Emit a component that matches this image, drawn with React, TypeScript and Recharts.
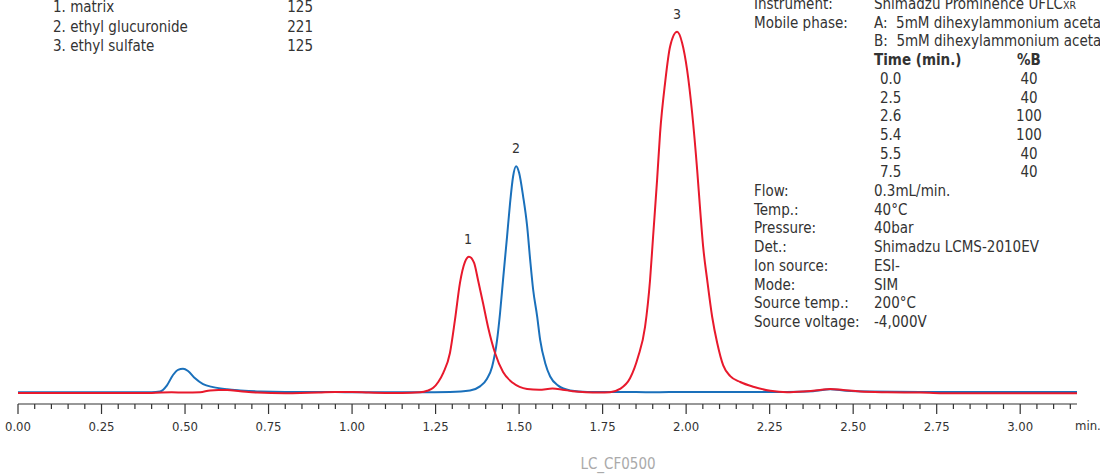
import React from 'react';
import { LineChart, Line, XAxis, YAxis, ReferenceDot } from 'recharts';

const FONT = "'Liberation Sans Narrow', 'DejaVu Sans Condensed', sans-serif";
const BLUE = '#1a70bb';
const RED = '#e8192c';

// ethyl glucuronide trace (m/z 221)
const blueTimes = [
  0, 0.1, 0.2, 0.3, 0.4, 0.425, 0.446, 0.464, 0.479, 0.494, 0.509, 0.53, 0.554, 0.584, 0.626, 0.665,
  0.725, 0.8, 0.9, 1.0, 1.1, 1.2, 1.293, 1.353, 1.383, 1.404, 1.419, 1.434, 1.443, 1.452, 1.464,
  1.473, 1.482, 1.491, 1.5, 1.512, 1.524, 1.533, 1.542, 1.554, 1.563, 1.578, 1.593, 1.617, 1.653,
  1.704, 1.8, 1.9, 2.0, 2.1, 2.2, 2.3, 2.38, 2.431, 2.48, 2.55, 2.7, 2.8, 2.9, 3.0, 3.1, 3.17,
];
const blueValues = [
  0.2, 0.2, 0.2, 0.2, 0.2, 0.4, 2.1, 4.9, 6.3, 6.6, 6.0, 4.0, 2.4, 1.6, 1.0, 0.7,
  0.4, 0.3, 0.3, 0.2, 0.2, 0.2, 0.3, 0.7, 1.8, 3.9, 7.1, 14.4, 21.8, 30.9, 42.7,
  51.8, 59, 61.8, 60, 53.6, 45.5, 36.4, 28.2, 20.9, 14.5, 8.2, 4.5, 2.0, 0.7,
  0.3, 0.3, 0.2, 0.3, 0.3, 0.3, 0.3, 0.5, 1.0, 0.6, 0.4, 0.3, 0.3, 0.3, 0.3, 0.3, 0.3,
];

// matrix + ethyl sulfate trace (m/z 125)
const redTimes = [
  0, 0.1, 0.2, 0.3, 0.4, 0.46, 0.5, 0.545, 0.575, 0.6, 0.626, 0.665, 0.716, 0.8, 0.9, 0.95, 1.0,
  1.05, 1.1, 1.15, 1.204, 1.225, 1.243, 1.258, 1.273, 1.293, 1.308, 1.323, 1.338, 1.35, 1.365,
  1.377, 1.392, 1.407, 1.428, 1.452, 1.482, 1.524, 1.56, 1.6, 1.63, 1.66, 1.7, 1.74, 1.772, 1.802,
  1.832, 1.856, 1.877, 1.892, 1.901, 1.913, 1.922, 1.937, 1.952, 1.973, 1.988, 2.003, 2.018, 2.033,
  2.042, 2.051, 2.063, 2.078, 2.093, 2.111, 2.132, 2.162, 2.201, 2.252, 2.302, 2.351, 2.401, 2.431,
  2.47, 2.521, 2.602, 2.7, 2.8, 2.9, 3.0, 3.1, 3.17,
];
const redValues = [
  0, 0, 0, 0, 0, 0.2, 0.1, 0.2, 0.7, 0.8, 0.8, 0.5, 0.1, -0.1, 0.1, 0.3, 0.3,
  0.1, 0, 0, 0.2, 0.6, 1.4, 3, 5.5, 10.9, 19.9, 30, 35.7, 37.1, 35.5,
  30.8, 24.5, 18, 10.9, 5.7, 2.7, 1.1, 0.9, 1.2, 0.9, 0.5, 0.2, 0.1, 0.2, 1.1,
  4, 9.8, 18, 30.8, 42.5, 58, 70.8, 84.5, 94.4, 98.4, 95.4, 88, 76.3, 60.8,
  49.9, 39.8, 30.8, 20.7, 13.6, 7.5, 4.6, 3.0, 1.7, 0.6, 0.2, 0.4, 0.8, 1.1,
  0.8, 0.4, 0.2, 0.1, -0.1, -0.1, -0.1, -0.1, -0.1,
];

const peakTimes = [1.347, 1.491, 1.973];
const peakValues = [37.1, 61.8, 98.4];
const peakLabels = ['1', '2', '3'];

const compoundNames = ['1. matrix', '2. ethyl glucuronide', '3. ethyl sulfate'];
const compoundMz = ['125', '221', '125'];

const gradientTimes = ['0.0', '2.5', '2.6', '5.4', '5.5', '7.5'];
const gradientB = ['40', '40', '100', '100', '40', '40'];

const conditionLabels = ['Flow:', 'Temp.:', 'Pressure:', 'Det.:', 'Ion source:', 'Mode:', 'Source temp.:', 'Source voltage:'];
const conditionValues = ['0.3mL/min.', '40°C', '40bar', 'Shimadzu LCMS-2010EV', 'ESI-', 'SIM', '200°C', '-4,000V'];

const axisTicks = Array.from({ length: 64 }, (_, i) => +(i * 0.05).toFixed(2));

const blueData = blueTimes.map((t, i) => ({ t, v: blueValues[i] }));
const redData = redTimes.map((t, i) => ({ t, v: redValues[i] }));

const AxisTick = (props: any) => {
  const { x, y, payload } = props;
  const v = payload.value;
  const major = Math.abs(v * 4 - Math.round(v * 4)) < 1e-6;
  return (
    <g>
      <line x1={x} x2={x} y1={y} y2={y + (major ? 10 : 5)} stroke="#333" strokeWidth={1.2} />
      {major && (
        <text x={x} y={y + 27} textAnchor="middle" fontSize={13} fontFamily={FONT} fill="#333">
          {v.toFixed(2)}
        </text>
      )}
    </g>
  );
};

const ROW = 18.7;
const TOP = 9;
const FS = 15;

export default function App() {
  return (
    <div style={{ position: 'absolute', left: 0, top: 0, width: 1100, height: 474, background: '#fff' }}>
      <LineChart width={1100} height={474} margin={{ top: 26, right: 23, bottom: 40, left: 18 }}>
        <XAxis
          type="number"
          dataKey="t"
          domain={[0, 3.17]}
          ticks={axisTicks}
          interval={0}
          height={30}
          tickSize={0}
          tickMargin={0}
          tickLine={false}
          axisLine={{ stroke: '#333', strokeWidth: 1.2 }}
          tick={<AxisTick />}
          allowDataOverflow
        />
        <YAxis hide type="number" domain={[-3, 100]} allowDataOverflow />
        <Line data={blueData} dataKey="v" type="monotone" stroke={BLUE} strokeWidth={2} dot={false} activeDot={false} isAnimationActive={false} />
        <Line data={redData} dataKey="v" type="monotone" stroke={RED} strokeWidth={2} dot={false} activeDot={false} isAnimationActive={false} />
        {peakTimes.map((t, i) => (
          <ReferenceDot
            key={i}
            x={t}
            y={peakValues[i]}
            r={0}
            label={{ value: peakLabels[i], position: 'top', offset: 13, fontSize: 14, fontFamily: FONT, fill: '#333' }}
          />
        ))}
      </LineChart>
      <svg width={1100} height={474} style={{ position: 'absolute', left: 0, top: 0, pointerEvents: 'none' }} fontFamily={FONT} fill="#333">
        {compoundNames.map((n, i) => (
          <g key={n}>
            <text x={53} y={12 + i * 19.7} fontSize={FS}>{n}</text>
            <text x={313} y={12 + i * 19.7} fontSize={FS} textAnchor="end">{compoundMz[i]}</text>
          </g>
        ))}
        <text x={754} y={TOP} fontSize={FS}>Instrument:</text>
        <text x={874} y={TOP} fontSize={FS}>Shimadzu Prominence UFLC<tspan fontSize={10.5}>XR</tspan></text>
        <text x={754} y={TOP + ROW} fontSize={FS}>Mobile phase:</text>
        <text x={874} y={TOP + ROW} fontSize={FS} xmlSpace="preserve">A:  5mM dihexylammonium acetate in water</text>
        <text x={874} y={TOP + 2 * ROW} fontSize={FS} xmlSpace="preserve">B:  5mM dihexylammonium acetate in acetonitrile</text>
        <text x={874} y={TOP + 3 * ROW} fontSize={FS} fontWeight="bold">Time (min.)</text>
        <text x={1029} y={TOP + 3 * ROW} fontSize={FS} fontWeight="bold" textAnchor="middle">%B</text>
        {gradientTimes.map((t, i) => (
          <g key={i}>
            <text x={880} y={TOP + (4 + i) * ROW} fontSize={FS}>{t}</text>
            <text x={1029} y={TOP + (4 + i) * ROW} fontSize={FS} textAnchor="middle">{gradientB[i]}</text>
          </g>
        ))}
        {conditionLabels.map((l, i) => (
          <g key={l}>
            <text x={754} y={TOP + (10 + i) * ROW} fontSize={FS}>{l}</text>
            <text x={874} y={TOP + (10 + i) * ROW} fontSize={FS}>{conditionValues[i]}</text>
          </g>
        ))}
        <text x={1075} y={430} fontSize={13}>min.</text>
        <text x={618} y={469} fontSize={15} textAnchor="middle" fill="#aaa">LC_CF0500</text>
      </svg>
    </div>
  );
}
